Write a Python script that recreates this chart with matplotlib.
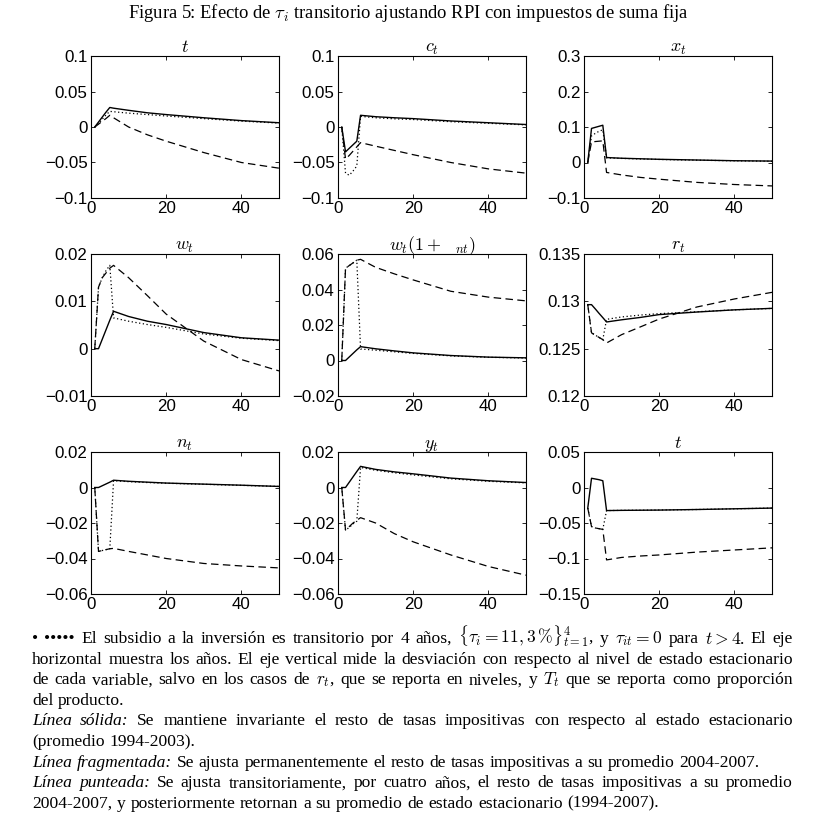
import matplotlib
matplotlib.use('Agg')
import matplotlib.pyplot as plt
from matplotlib.ticker import FuncFormatter


plt.rcParams['mathtext.fontset'] = 'cm'
plt.rcParams['font.family'] = 'Liberation Serif'

W, H = 816, 823

# years shown (the lines start at t = 1)
T = [1, 2, 3, 4, 5, 6, 10, 15, 20, 30, 40, 50]

TITLES = [r'$t$', r'$c_t$', r'$x_t$',
          r'$w_t$', r'$w_t(1+\ \ {}_{nt})$', r'$r_t$',
          r'$n_t$', r'$y_t$', r'$t$']

YTICKS = [
    [-0.1, -0.05, 0, 0.05, 0.1],
    [-0.1, -0.05, 0, 0.05, 0.1],
    [-0.1, 0, 0.1, 0.2, 0.3],
    [-0.01, 0, 0.01, 0.02],
    [-0.02, 0, 0.02, 0.04, 0.06],
    [0.12, 0.125, 0.13, 0.135],
    [-0.06, -0.04, -0.02, 0, 0.02],
    [-0.06, -0.04, -0.02, 0, 0.02],
    [-0.15, -0.1, -0.05, 0, 0.05],
]
XTICKS = [0, 20, 40]

# linea solida
SOLID = [
    [0, 0.007, 0.014, 0.021, 0.0275, 0.0265, 0.0235, 0.020, 0.0175, 0.013, 0.009, 0.006],
    [0, -0.035, -0.030, -0.025, -0.020, 0.0165, 0.0145, 0.013, 0.0118, 0.0085, 0.006, 0.0035],
    [0, 0.096, 0.099, 0.102, 0.105, 0.014, 0.012, 0.0105, 0.009, 0.007, 0.005, 0.004],
    [0, 0, 0.002, 0.004, 0.006, 0.0079, 0.0068, 0.0058, 0.0051, 0.0034, 0.0023, 0.0018],
    [0, 0, 0.002, 0.004, 0.006, 0.0078, 0.0066, 0.0054, 0.0043, 0.0028, 0.0019, 0.0015],
    [0.12965, 0.12965, 0.1292, 0.12873, 0.12828, 0.12782, 0.12805, 0.1283, 0.1286, 0.12887, 0.1291, 0.12926],
    [0, 0, 0.001, 0.002, 0.003, 0.0041, 0.0035, 0.003, 0.0025, 0.0019, 0.0013, 0.0006],
    [0, 0, 0.003, 0.006, 0.009, 0.0119, 0.0102, 0.0088, 0.0077, 0.0053, 0.0038, 0.0028],
    [-0.029, 0.013, 0.012, 0.011, 0.0095, -0.0325, -0.0322, -0.032, -0.0318, -0.031, -0.030, -0.029],
]

# linea fragmentada
DASHED = [
    [0, 0.004, 0.008, 0.012, 0.0165, 0.013, 0.000, -0.011, -0.020, -0.036, -0.050, -0.058],
    [0, -0.045, -0.040, -0.034, -0.028, -0.022, -0.027, -0.033, -0.039, -0.050, -0.059, -0.065],
    [0, 0.058, 0.059, 0.060, 0.061, -0.028, -0.035, -0.042, -0.047, -0.056, -0.062, -0.066],
    [0, 0.013, 0.015, 0.016, 0.017, 0.0176, 0.015, 0.0112, 0.0073, 0.0016, -0.0023, -0.0047],
    [0, 0.052, 0.0535, 0.055, 0.0565, 0.057, 0.0525, 0.0488, 0.0454, 0.039, 0.0357, 0.0336],
    [0.12965, 0.12667, 0.12643, 0.12619, 0.12595, 0.1256, 0.12648, 0.1273, 0.12813, 0.1294, 0.13025, 0.13095],
    [0, -0.036, -0.0355, -0.035, -0.0345, -0.0343, -0.036, -0.038, -0.040, -0.0428, -0.0442, -0.0453],
    [0, -0.024, -0.022, -0.020, -0.0185, -0.017, -0.020, -0.026, -0.0306, -0.038, -0.0445, -0.0494],
    [-0.029, -0.055, -0.057, -0.058, -0.059, -0.102, -0.0985, -0.0965, -0.095, -0.091, -0.088, -0.085],
]

# linea punteada
DOTTED = [
    [0, 0.005, 0.011, 0.017, 0.022, 0.0215, 0.0195, 0.0175, 0.0155, 0.0118, 0.0083, 0.0055],
    [0, -0.065, -0.068, -0.062, -0.055, 0.015, 0.013, 0.0115, 0.0105, 0.0075, 0.0052, 0.003],
    [0, 0.075, 0.082, 0.088, 0.092, 0.013, 0.0115, 0.010, 0.0085, 0.0065, 0.0048, 0.0035],
    [0, 0.013, 0.015, 0.0165, 0.0176, 0.0065, 0.0058, 0.0051, 0.0045, 0.0031, 0.0022, 0.0017],
    [0, 0.052, 0.0535, 0.055, 0.0565, 0.0065, 0.0058, 0.0049, 0.0040, 0.0026, 0.0018, 0.0014],
    [0.12965, 0.12667, 0.12643, 0.12619, 0.12595, 0.1281, 0.12835, 0.12855, 0.1287, 0.1289, 0.1291, 0.12925],
    [0, -0.036, -0.0355, -0.035, -0.0345, 0.0038, 0.0033, 0.0028, 0.0024, 0.0018, 0.0012, 0.0006],
    [0, -0.024, -0.0225, -0.0205, -0.019, 0.0113, 0.0097, 0.0083, 0.0071, 0.0049, 0.0035, 0.0026],
    [-0.029, -0.055, -0.057, -0.058, -0.059, -0.0325, -0.0322, -0.032, -0.0317, -0.031, -0.030, -0.029],
]

FIG_TITLE = r'Figura 5: Efecto de $\tau_i$ transitorio ajustando RPI con impuestos de suma fija'

# '~' marks an italic word, (text, justified)
CAPTION = [
    (r'•  ••••• El subsidio a la inversión es transitorio por 4 años, '
     r'$\{\tau_i=11,3\,\%\}_{t=1}^{4}$, y $\tau_{it}=0$ para $t>4$. El eje', True),
    ('horizontal muestra los años. El eje vertical mide la desviación con respecto al nivel de estado estacionario', True),
    (r'de cada variable, salvo en los casos de $r_t$, que se reporta en niveles, y $T_t$ que se reporta como proporción', True),
    ('del producto.', False),
    ('~Línea ~sólida: Se mantiene invariante el resto de tasas impositivas con respecto al estado estacionario', True),
    ('(promedio 1994-2003).', False),
    ('~Línea ~fragmentada: Se ajusta permanentemente el resto de tasas impositivas a su promedio 2004-2007.', False),
    ('~Línea ~punteada: Se ajusta transitoriamente, por cuatro años, el resto de tasas impositivas a su promedio', True),
    ('2004-2007, y posteriormente retornan a su promedio de estado estacionario (1994-2007).', False),
]

COL_LEFT = [91, 338, 584]
ROW_TOP = [56, 254, 452]
AX_W, AX_H = 188, 142

CAP_X0, CAP_X1 = 32, 793
CAP_Y0, CAP_DY = 643, 20.6
CAP_SIZE = 12.6


def tick_fmt(v, pos):
    return ('%g' % v).replace('-', '\u2212')


def draw_panel(fig, i):
    r, c = divmod(i, 3)
    ax = fig.add_axes([COL_LEFT[c] / W, 1 - (ROW_TOP[r] + AX_H) / H, AX_W / W, AX_H / H])

    ax.plot(T, DOTTED[i], color='black', lw=0.9, linestyle=(0, (1, 2)))
    ax.plot(T, DASHED[i], color='black', lw=0.9, linestyle=(0, (6, 3.5)))
    ax.plot(T, SOLID[i], color='black', lw=1.0)

    ticks = YTICKS[i]
    ax.set_ylim(ticks[0], ticks[-1])
    ax.set_yticks(ticks)
    ax.set_xlim(0, 50)
    ax.set_xticks(XTICKS)
    ax.yaxis.set_major_formatter(FuncFormatter(tick_fmt))
    ax.tick_params(direction='in', top=True, right=True, length=3, width=0.6, pad=2.5,
                   labelsize=12.2)
    for lab in ax.get_xticklabels() + ax.get_yticklabels():
        lab.set_fontfamily('Liberation Sans')
    for s in ax.spines.values():
        s.set_linewidth(0.8)
    ax.set_title(TITLES[i], fontsize=13, pad=3)


def draw_caption_line(fig, renderer, line, y, justify):
    texts = []
    for tok in line.split(' '):
        if tok == '':
            continue
        italic = tok.startswith('~')
        tok = tok.lstrip('~')
        t = fig.text(0, 1 - y / H, tok, fontsize=CAP_SIZE, va='baseline', ha='left',
                     style='italic' if italic else 'normal')
        texts.append(t)
    widths = [t.get_window_extent(renderer).width for t in texts]
    if justify and len(texts) > 1:
        gap = (CAP_X1 - CAP_X0 - sum(widths)) / (len(texts) - 1)
    else:
        gap = CAP_SIZE * 100 / 72 * 0.27
    x = CAP_X0
    for t, w in zip(texts, widths):
        t.set_x(x / W)
        x += w + gap


def main():
    fig = plt.figure(figsize=(W / 100, H / 100), dpi=100)
    fig.text(0.5, 1 - 18 / H, FIG_TITLE, ha='center', va='baseline', fontsize=13.4)

    for i in range(9):
        draw_panel(fig, i)

    renderer = fig.canvas.get_renderer()
    for k, (line, justify) in enumerate(CAPTION):
        draw_caption_line(fig, renderer, line, CAP_Y0 + k * CAP_DY, justify)

    fig.savefig('out.png', dpi=100)


if __name__ == '__main__':
    main()
